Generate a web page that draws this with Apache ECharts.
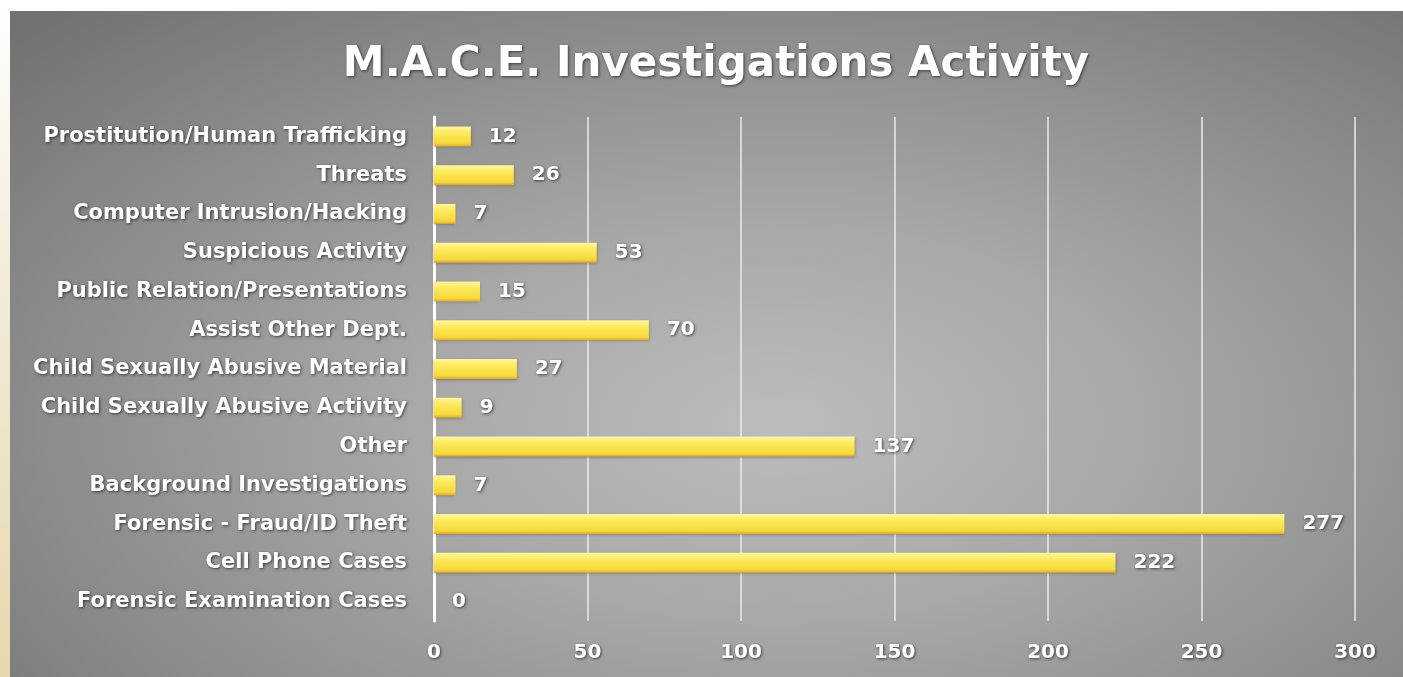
<!DOCTYPE html>
<html>
<head>
<meta charset="utf-8">
<script src="https://cdn.jsdelivr.net/npm/echarts@6/dist/echarts.min.js"></script>
<style>
html,body{margin:0;padding:0;}
body{width:1403px;height:677px;overflow:hidden;background:linear-gradient(to bottom,#ffffff 0%,#f2ecda 40%,#e6d8ad 100%);}
#panel{position:absolute;left:10px;top:11px;width:1393px;height:666px;
  background:radial-gradient(ellipse 75% 85% at 55% 62%,#bcbcbc 0%,#a8a8a8 35%,#8c8c8c 70%,#727272 100%);}
#chart{position:absolute;left:0;top:0;width:1403px;height:677px;}
</style>
</head>
<body>
<div id="panel"></div>
<div id="chart"></div>
<script>
const titleText = 'M.A.C.E. Investigations Activity';
const categories = [
  'Prostitution/Human Trafficking',
  'Threats',
  'Computer Intrusion/Hacking',
  'Suspicious Activity',
  'Public Relation/Presentations',
  'Assist Other Dept.',
  'Child Sexually Abusive Material',
  'Child Sexually Abusive Activity',
  'Other',
  'Background Investigations',
  'Forensic - Fraud/ID Theft',
  'Cell Phone Cases',
  'Forensic Examination Cases'
];
const values = [12, 26, 7, 53, 15, 70, 27, 9, 137, 7, 277, 222, 0];
const xTicks = [0, 50, 100, 150, 200, 250, 300];

const FONT = 'DejaVu Sans';
const chart = echarts.init(document.getElementById('chart'), null, {renderer:'canvas'});
const shadow = {textShadowColor:'rgba(0,0,0,0.6)', textShadowBlur:3, textShadowOffsetX:1, textShadowOffsetY:1};
chart.setOption({
  backgroundColor: 'transparent',
  title: {
    text: titleText,
    left: 711, top: 39, textAlign: 'center',
    textStyle: Object.assign({color:'#ffffff', fontFamily:FONT, fontWeight:'bold', fontSize:42}, shadow)
  },
  grid: {left: 434, right: 48, top: 117, bottom: 56, containLabel: false},
  xAxis: {
    type: 'value', min: 0, max: 300, interval: 50,
    axisLine: {show: false}, axisTick: {show: false},
    splitLine: {show: true, lineStyle: {color: 'rgba(235,235,235,0.75)', width: 2}},
    axisLabel: Object.assign({color:'#ffffff', fontFamily:FONT, fontWeight:'bold', fontSize:20, margin:22,
      formatter: v => xTicks.includes(v) ? String(v) : ''}, shadow)
  },
  yAxis: {
    type: 'category', data: categories, inverse: true,
    axisLine: {show: true, lineStyle: {color: '#ffffff', width: 3}},
    axisTick: {show: false},
    axisLabel: Object.assign({color:'#ffffff', fontFamily:FONT, fontWeight:'bold', fontSize:21, margin:27}, shadow)
  },
  series: [{
    type: 'bar', data: values, barWidth: 20,
    itemStyle: {
      color: new echarts.graphic.LinearGradient(0, 0, 0, 1, [
        {offset: 0, color: '#fff6a0'},
        {offset: 0.35, color: '#fde95a'},
        {offset: 0.85, color: '#f6d83a'},
        {offset: 1, color: '#d9a63a'}
      ]),
      shadowColor: 'rgba(90,60,0,0.45)', shadowBlur: 3, shadowOffsetY: 1
    },
    label: Object.assign({show: true, position: 'right', distance: 18, color:'#ffffff', fontFamily:FONT, fontWeight:'bold', fontSize:20}, shadow)
  }]
});
</script>
</body>
</html>
